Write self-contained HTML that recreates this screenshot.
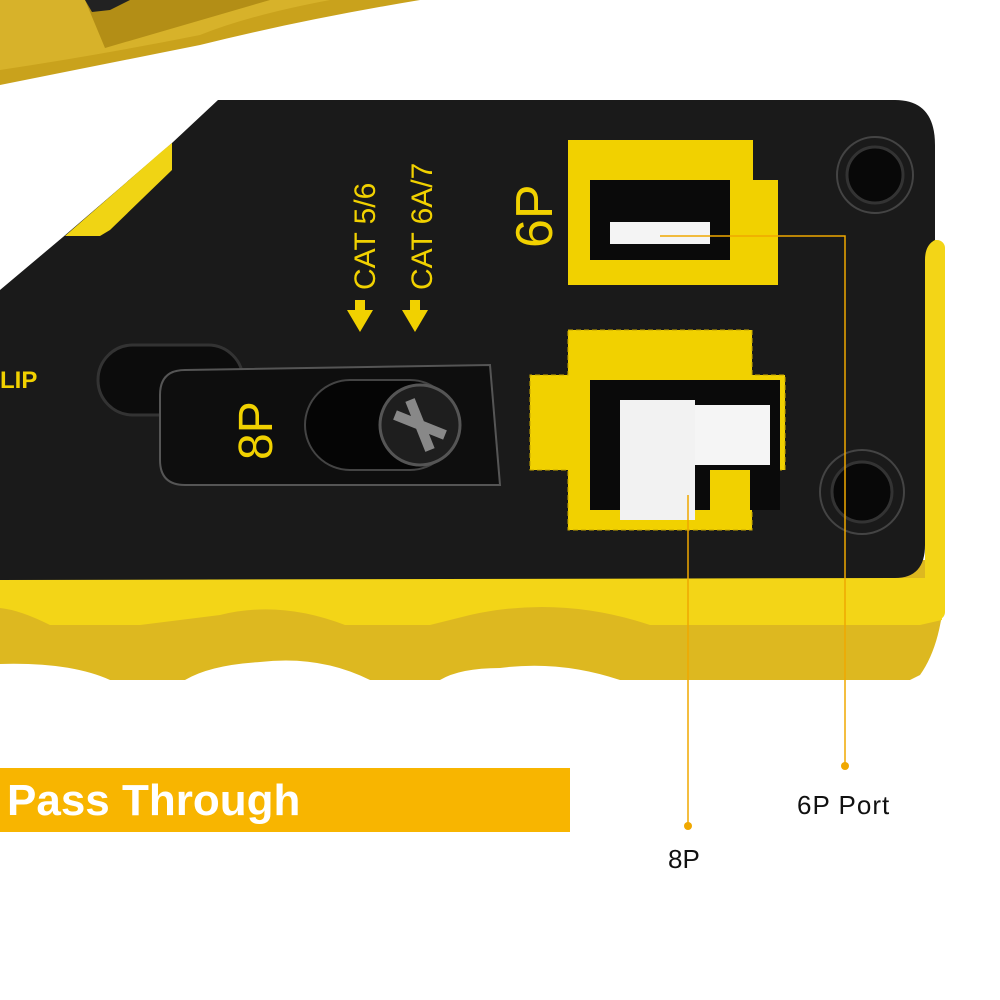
<!DOCTYPE html>
<html><head><meta charset="utf-8"><style>
html,body{margin:0;padding:0;background:#fff;}
svg{display:block}
text{font-family:"Liberation Sans",sans-serif;}
</style></head><body>
<svg width="1000" height="1000" viewBox="0 0 1000 1000" xmlns="http://www.w3.org/2000/svg">
<rect width="1000" height="1000" fill="#fff"/>
<path d="M0,0 L420,0 Q300,20 200,45 Q100,65 0,85 Z" fill="#c9a21c"/>
<path d="M0,0 L330,0 Q250,15 200,35 Q100,55 0,70 Z" fill="#d7b22a"/>
<path d="M85,0 L105,48 L270,0 Z" fill="#b38e16"/>
<path d="M85,0 L130,0 L110,10 L92,12 Z" fill="#222"/>
<path d="M0,560 L925,560 L945,570 Q945,640 920,675 L910,680 L620,680 Q560,660 500,668 Q460,668 440,680 L370,680 Q320,655 260,662 Q210,665 185,680 L110,680 Q70,662 0,664 Z" fill="#ddb820"/>
<path d="M0,578 L940,578 L942,620 L920,625 L650,625 Q560,595 470,615 L430,625 L345,625 Q280,600 220,615 L140,625 L50,625 Q20,610 0,608 Z" fill="#f3d517"/>
<rect x="925" y="240" width="20" height="380" rx="8" fill="#f3d517"/>
<path d="M0,290 L63,237 L172,143 L218,100 L895,100 Q935,100 935,145 L935,240 Q925,245 925,260 L925,545 Q925,578 895,578 L0,580 Z" fill="#1a1a1a"/>
<path d="M65,236 L160,153 L172,143 L172,170 L110,230 L100,236 Z" fill="#f0d414"/>
<rect x="98" y="345" width="145" height="70" rx="35" fill="#0c0c0c" stroke="#333" stroke-width="3"/>
<text x="0" y="388" fill="#f1d100" font-size="24" font-weight="bold">LIP</text>
<path d="M185,370 L490,365 L500,485 L185,485 Q160,485 160,460 L160,395 Q160,370 185,370 Z" fill="#0e0e0e" stroke="#555" stroke-width="2"/>
<rect x="305" y="380" width="150" height="90" rx="45" fill="#050505" stroke="#444" stroke-width="2"/>
<circle cx="420" cy="425" r="40" fill="#1e1e1e" stroke="#555" stroke-width="3"/>
<path d="M395,415 L445,435 M410,400 L430,450" stroke="#888" stroke-width="10"/>
<text transform="translate(272,460) rotate(-90)" fill="#f1d100" font-size="48">8P</text>
<text transform="translate(375,290) rotate(-90)" fill="#f1d100" font-size="30">CAT 5/6</text>
<text transform="translate(432,290) rotate(-90)" fill="#f1d100" font-size="30">CAT 6A/7</text>
<path d="M347,310 L373,310 L360,332 Z M355,300 L365,300 L365,312 L355,312 Z" fill="#f1d100"/>
<path d="M402,310 L428,310 L415,332 Z M410,300 L420,300 L420,312 L410,312 Z" fill="#f1d100"/>
<text transform="translate(552,248) rotate(-90)" fill="#f1d100" font-size="52">6P</text>
<rect x="568" y="140" width="185" height="145" fill="#f1d100"/>
<rect x="590" y="180" width="140" height="80" fill="#0a0a0a"/>
<rect x="753" y="180" width="25" height="105" fill="#f1d100"/>
<rect x="610" y="222" width="100" height="22" fill="#f4f4f4"/>
<path d="M568,330 L752,330 L752,375 L785,375 L785,470 L752,470 L752,530 L568,530 L568,470 L530,470 L530,375 L568,375 Z" fill="#f1d100" stroke="#c8a800" stroke-dasharray="5,3"/>
<rect x="590" y="380" width="190" height="130" fill="#0a0a0a"/>
<rect x="620" y="400" width="75" height="120" fill="#f2f2f2"/>
<rect x="695" y="405" width="75" height="60" fill="#f5f5f5"/>
<rect x="710" y="470" width="40" height="55" fill="#f1d100"/>
<circle cx="875" cy="175" r="38" fill="none" stroke="#444" stroke-width="2"/>
<circle cx="875" cy="175" r="28" fill="#080808" stroke="#333" stroke-width="3"/>
<circle cx="862" cy="492" r="42" fill="none" stroke="#444" stroke-width="2"/>
<circle cx="862" cy="492" r="30" fill="#080808" stroke="#333" stroke-width="3"/>
<polyline points="660,236 845,236 845,765" fill="none" stroke="#f0a800" stroke-width="1.5"/>
<circle cx="845" cy="766" r="4" fill="#f0a800"/>
<line x1="688" y1="495" x2="688" y2="825" stroke="#f0a800" stroke-width="1.5"/>
<circle cx="688" cy="826" r="4" fill="#f0a800"/>
<rect x="0" y="768" width="570" height="64" fill="#f8b500"/>
<text x="7" y="815" fill="#fff" font-size="44" font-weight="bold">Pass Through</text>
<text x="797" y="814" fill="#111" font-size="26" letter-spacing="1">6P Port</text>
<text x="668" y="868" fill="#111" font-size="26">8P</text>
</svg>
</body></html>
